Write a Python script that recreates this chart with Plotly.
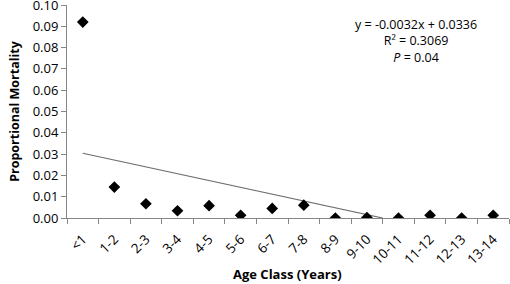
import plotly.graph_objects as go

categories = ["<1", "1-2", "2-3", "3-4", "4-5", "5-6", "6-7", "7-8", "8-9", "9-10",
              "10-11", "11-12", "12-13", "13-14"]
mortality = [0.092, 0.0145, 0.0067, 0.0034, 0.0058, 0.0013, 0.0045, 0.006, 0.0,
             0.0002, 0.0, 0.0013, 0.0, 0.0013]
ytick_vals = [0.0, 0.01, 0.02, 0.03, 0.04, 0.05, 0.06, 0.07, 0.08, 0.09, 0.10]
slope = -0.0032
intercept = 0.0336
trend_x = [1, 10.5]

xpos = list(range(1, len(categories) + 1))
trend_y = [slope * x + intercept for x in trend_x]

font = "Open Sans, Liberation Sans, sans-serif"
fig = go.Figure()
fig.add_trace(go.Scatter(x=trend_x, y=trend_y, mode="lines",
                         line=dict(color="#6d6d6d", width=1.2), showlegend=False))
fig.add_trace(go.Scatter(x=xpos, y=mortality, mode="markers",
                         marker=dict(symbol="diamond", size=9, color="black"),
                         showlegend=False))

fig.add_annotation(x=0.79, y=0.83, xref="paper", yref="paper", showarrow=False,
                   xanchor="center", yanchor="middle",
                   text="y = -0.0032x + 0.0336<br>R² = 0.3069<br><i>P</i> = 0.04",
                   font=dict(family=font, size=12.5, color="black"), align="center")
fig.add_annotation(x=0.499, y=-0.262, xref="paper", yref="paper", showarrow=False,
                   xanchor="center", yanchor="middle", text="<b>Age Class (Years)</b>",
                   font=dict(family=font, size=13, color="black"))

fig.update_layout(
    width=510, height=284, margin=dict(l=67, r=1, t=5, b=66),
    plot_bgcolor="white", paper_bgcolor="white",
    font=dict(family=font, color="black"),
    xaxis=dict(range=[0.5, 14.5], tickvals=xpos, ticktext=categories, tickangle=-45,
               ticks="", showgrid=False, zeroline=False, showline=True, automargin=False,
               linecolor="#868686", linewidth=1, tickfont=dict(size=13.5),
               ticklabelstandoff=7,
               minor=dict(tick0=0.5, dtick=1, ticks="outside", ticklen=5,
                          tickcolor="#868686", showgrid=False)),
    yaxis=dict(range=[0, 0.1], tickvals=ytick_vals, tickformat=".2f", ticks="outside",
               ticklen=5, tickcolor="#868686", showgrid=False, zeroline=False,
               showline=True, linecolor="#868686", linewidth=1, tickfont=dict(size=13),
               automargin=False, ticklabeloverflow="allow",
               title=dict(text="<b>Proportional Mortality</b>", font=dict(size=12.5), standoff=10)),
)
fig.write_html("out.html", config={"displayModeBar": False},
               post_script="document.body.style.margin='0';")
